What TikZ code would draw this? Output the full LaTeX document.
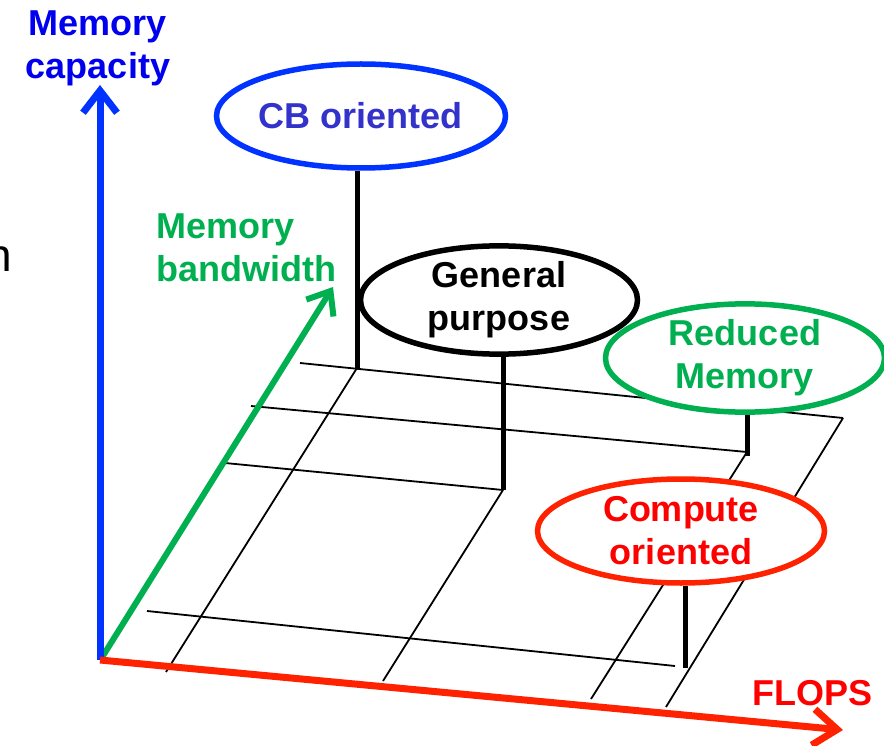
\documentclass[tikz,border=0pt]{standalone}
\usepackage{fontspec}
\setmainfont{Liberation Sans}
\usetikzlibrary{shapes.geometric,arrows.meta}

\definecolor{axisblue}{HTML}{0033FF}
\definecolor{capblue}{HTML}{0000EE}
\definecolor{cbtext}{HTML}{3333CC}
\definecolor{leafgreen}{HTML}{00B050}
\definecolor{axisred}{HTML}{FF2200}
\definecolor{textred}{HTML}{FF0000}

\tikzset{
  lbl/.style={font=\fontsize{36}{43}\selectfont\bfseries, align=center, inner sep=0pt},
  blob/.style={ellipse, draw, line width=5.5pt, fill=white, inner sep=0pt,
               font=\fontsize{36}{43}\selectfont\bfseries, align=center},
  gridline/.style={line width=1.8pt, black},
  stem/.style={line width=5pt, black},
  axis/.style={line width=7pt},
}

\begin{document}
\begin{tikzpicture}[x=1pt,y=-1pt]
\useasboundingbox (0,0) rectangle (884,746);

% letter running off the left edge
\node[anchor=base east, inner sep=0pt, font=\fontsize{46}{50}\selectfont] (edgeN) at (12,272) {n};

% floor grid corners
\coordinate (a1) at (300,363);  \coordinate (a2) at (843,418);
\coordinate (b1) at (251,406);  \coordinate (b2) at (747,452);
\coordinate (c1) at (225,463);  \coordinate (c2) at (503,490);
\coordinate (d1) at (147,611);  \coordinate (d2) at (675,666);
\coordinate (p1) at (357,368);  \coordinate (p2) at (166,672);
\coordinate (q2) at (383,681);
\coordinate (r2) at (591,699);
\coordinate (s2) at (666,707);
\coordinate (coBase) at (685,668);

% floor grid
\draw[gridline] (a1) -- (a2);
\draw[gridline] (b1) -- (b2);
\draw[gridline] (c1) -- (c2);
\draw[gridline] (d1) -- (d2);
\draw[gridline] (p1) -- (p2);
\draw[gridline] (c2) -- (q2);
\draw[gridline] (b2) -- (r2);
\draw[gridline] (a2) -- (s2);

% axes
\coordinate (O) at (100,660);
\coordinate (yTip) at (100,85);
\coordinate (xTip) at (843,730);
\coordinate (zTip) at (333,287);
\draw[axis, leafgreen, line width=6pt, -{Straight Barb[length=20pt,width=32pt]}] (101,659) -- (zTip);
\draw[axis, axisblue, -{Straight Barb[length=22pt,width=34pt]}] (O) -- (yTip);
\draw[axis, axisred, -{Straight Barb[length=24pt,width=36pt]}] (O) -- (xTip);

% axis labels
\node[lbl, capblue] (capLbl) at (98,48) {Memory\\capacity};
\node[lbl, leafgreen, align=left, anchor=west] (bwLbl) at (156,248) {Memory\\bandwidth};
\node[lbl, textred, anchor=base west] (flopsLbl) at (752,705) {FLOPS};

% design points
\node[blob, draw=axisblue, text=cbtext, minimum width=289pt, minimum height=104pt] (cb) at (361,116) {CB oriented};
\node[blob, draw=black, text=black, minimum width=277pt, minimum height=105pt] (gp) at (499,300) {General\\purpose};
\node[blob, draw=leafgreen, text=leafgreen, minimum width=279pt, minimum height=106pt] (rm) at (745,358) {Reduced\\Memory};
\node[blob, draw=axisred, text=textred, minimum width=287pt, minimum height=104pt] (co) at (681,531) {Compute\\oriented};

% stems down to the floor
\draw[stem] (p1 |- cb.south) -- (p1);
\draw[stem] (c2 |- gp.south) -- (c2);
\draw[stem] (b2 |- rm.south) -- ([yshift=-4pt]b2);
\draw[stem] (coBase |- co.south) -- (coBase);
\end{tikzpicture}
\end{document}
